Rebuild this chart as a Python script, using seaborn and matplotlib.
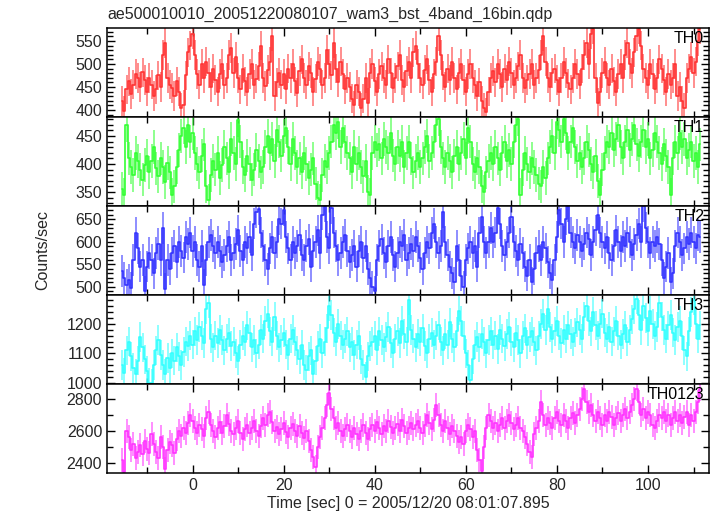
import numpy as np
import seaborn as sns
import matplotlib
matplotlib.use("Agg")
import matplotlib.pyplot as plt
import matplotlib.ticker as ticker

# bins: 0.5 s wide, first bin centre at -15.5 s
t_start = -15.5
bin_width = 0.5

th0 = [420, 398, 445, 462, 435, 455, 478, 470, 450, 482,
       465, 440, 470, 455, 430, 445, 475, 450, 520, 545,
       470, 455, 448, 430, 462, 440, 405, 412, 475, 525,
       540, 565, 520, 478, 455, 500, 470, 505, 480, 450,
       490, 465, 440, 478, 500, 455, 470, 520, 535, 480,
       515, 470, 445, 490, 462, 440, 478, 500, 455, 468,
       495, 540, 470, 452, 488, 505, 560, 430, 460, 480,
       455, 478, 445, 490, 470, 500, 462, 438, 485, 510,
       470, 455, 495, 480, 440, 468, 505, 490, 455, 470,
       530, 500, 475, 545, 490, 460, 505, 478, 445, 470,
       450, 425, 410, 455, 440, 405, 425, 470, 415, 480,
       500, 462, 440, 478, 495, 470, 455, 510, 480, 448,
       470, 495, 520, 465, 450, 485, 505, 470, 525, 540,
       500, 470, 455, 488, 510, 465, 440, 478, 505, 560,
       520, 475, 450, 490, 465, 505, 470, 445, 480, 500,
       465, 440, 478, 500, 470, 455, 430, 460, 420, 405,
       395, 440, 470, 485, 460, 500, 478, 450, 490, 465,
       505, 480, 455, 470, 495, 520, 470, 448, 465, 478,
       500, 455, 470, 488, 520, 560, 505, 470, 450, 480,
       490, 465, 440, 470, 505, 480, 458, 445, 470, 500,
       478, 455, 490, 520, 545, 500, 565, 575, 470, 415,
       440, 480, 505, 470, 455, 490, 462, 440, 478, 500,
       470, 520, 545, 500, 480, 525, 560, 575, 540, 490,
       470, 455, 500, 478, 445, 470, 510, 490, 465, 440,
       478, 455, 470, 500, 430, 450, 420, 405, 470, 490,
       515, 480, 505, 550, 575]

th1 = [355, 345, 470, 410, 395, 380, 420, 405, 390, 372,
       398, 415, 385, 405, 430, 392, 378, 410, 395, 368,
       402, 385, 345, 360, 395, 425, 450, 465, 430, 470,
       440, 455, 420, 400, 385, 415, 435, 360, 335, 380,
       405, 390, 420, 375, 398, 430, 410, 385, 445, 420,
       400, 478, 440, 395, 380, 415, 400, 372, 390, 425,
       405, 385, 395, 430, 450, 420, 445, 405, 460, 440,
       415, 450, 465, 430, 400, 445, 420, 395, 410, 385,
       420, 400, 375, 390, 410, 365, 340, 335, 380, 405,
       395, 420, 440, 470, 455, 475, 430, 465, 440, 420,
       410, 385, 430, 400, 420, 395, 378, 405, 350, 345,
       420, 440, 425, 435, 410, 445, 430, 420, 455, 415,
       400, 430, 415, 440, 395, 420, 440, 410, 385, 405,
       420, 395, 410, 430, 450, 405, 420, 440, 470, 480,
       430, 410, 395, 420, 405, 385, 415, 430, 400, 420,
       445, 410, 465, 440, 400, 385, 410, 395, 360, 350,
       385, 405, 420, 400, 430, 410, 390, 420, 440, 405,
       425, 400, 440, 470, 480, 345, 390, 420, 400, 385,
       410, 395, 380, 365, 360, 395, 375, 410, 430, 450,
       420, 475, 460, 440, 480, 455, 420, 440, 465, 430,
       405, 420, 395, 410, 440, 425, 400, 385, 415, 370,
       345, 390, 420, 440, 430, 455, 425, 445, 470, 430,
       410, 440, 460, 425, 445, 470, 435, 415, 440, 460,
       430, 445, 410, 425, 455, 440, 420, 400, 435, 415,
       395, 345, 410, 440, 420, 455, 430, 445, 410, 425,
       440, 405, 420, 395, 435]

th2 = [535, 520, 505, 515, 498, 560, 620, 585, 545, 560,
       490, 545, 575, 560, 530, 575, 595, 560, 630, 495,
       560, 540, 575, 590, 555, 600, 580, 565, 610, 595,
       620, 580, 600, 560, 545, 590, 505, 560, 600, 615,
       590, 575, 600, 580, 555, 570, 590, 610, 560, 575,
       595, 625, 580, 560, 600, 585, 610, 570, 640, 665,
       672, 620, 590, 560, 540, 585, 610, 575, 600, 650,
       640, 670, 610, 585, 560, 600, 575, 590, 615, 570,
       560, 590, 605, 545, 580, 600, 625, 575, 660, 679,
       610, 585, 675, 620, 590, 560, 575, 600, 615, 580,
       555, 570, 590, 545, 580, 600, 565, 590, 540, 520,
       500, 490, 560, 590, 605, 575, 555, 590, 610, 570,
       545, 575, 600, 590, 615, 560, 575, 595, 580, 610,
       590, 565, 540, 575, 600, 585, 620, 640, 600, 575,
       590, 665, 600, 570, 545, 530, 510, 590, 560, 525,
       500, 560, 585, 600, 575, 590, 545, 620, 655, 600,
       575, 600, 630, 600, 620, 675, 640, 590, 570, 600,
       620, 655, 600, 580, 560, 595, 575, 545, 525, 560,
       510, 540, 575, 590, 560, 600, 585, 555, 530, 515,
       560, 610, 670, 640, 600, 650, 679, 620, 600, 585,
       615, 600, 580, 595, 620, 605, 570, 600, 625, 660,
       620, 600, 585, 610, 575, 560, 590, 625, 600, 580,
       610, 590, 620, 600, 570, 595, 615, 640, 600, 679,
       630, 600, 575, 600, 590, 610, 595, 560, 520, 545,
       575, 510, 530, 590, 620, 600, 570, 585, 610, 595,
       620, 600, 585, 615, 610]

th3 = [1060, 1035, 1110, 1140, 1090, 1050, 1030, 1075, 1155, 1120,
       1080, 1040, 1000, 998, 1060, 1110, 1145, 1095, 1060, 1030,
       1085, 1050, 1100, 1075, 1120, 1090, 1060, 1105, 1140, 1125,
       1160, 1130, 1175, 1145, 1190, 1160, 1135, 1250, 1270, 1150,
       1120, 1160, 1135, 1180, 1145, 1110, 1150, 1170, 1125, 1140,
       1100, 1075, 1130, 1160, 1140, 1195, 1170, 1120, 1145, 1100,
       1130, 1180, 1150, 1210, 1235, 1175, 1140, 1225, 1160, 1120,
       1145, 1170, 1130, 1095, 1150, 1180, 1140, 1110, 1080, 1130,
       1060, 1045, 1090, 1110, 1030, 1075, 1125, 1150, 1100, 1140,
       1185, 1260, 1230, 1170, 1140, 1200, 1160, 1130, 1150, 1175,
       1120, 1140, 1095, 1130, 1160, 1080, 1060, 1020, 1090, 1125,
       1140, 1160, 1110, 1175, 1145, 1120, 1155, 1190, 1135, 1100,
       1150, 1175, 1135, 1210, 1165, 1140, 1280, 1180, 1150, 1120,
       1165, 1140, 1185, 1125, 1100, 1150, 1170, 1130, 1160, 1195,
       1140, 1110, 1165, 1130, 1205, 1150, 1120, 1175, 1245, 1210,
       1160, 1100, 1060, 1010, 1080, 1130, 1155, 1120, 1165, 1140,
       1100, 1145, 1175, 1130, 1160, 1115, 1180, 1150, 1125, 1165,
       1190, 1140, 1120, 1170, 1145, 1100, 1160, 1185, 1130, 1155,
       1175, 1140, 1110, 1160, 1200, 1235, 1180, 1250, 1190, 1150,
       1175, 1210, 1160, 1135, 1180, 1150, 1195, 1165, 1140, 1170,
       1205, 1180, 1150, 1225, 1260, 1210, 1175, 1240, 1195, 1160,
       1200, 1235, 1170, 1150, 1190, 1140, 1175, 1210, 1160, 1130,
       1165, 1195, 1140, 1180, 1215, 1250, 1285, 1230, 1180, 1260,
       1220, 1175, 1245, 1200, 1160, 1190, 1270, 1225, 1180, 1150,
       1195, 1230, 1170, 1145, 1190, 1210, 1160, 1110, 1090, 1175,
       1240, 1280, 1200, 1150, 1195]

th0123 = [2420, 2345, 2600, 2560, 2480, 2520, 2430, 2470, 2510, 2455,
          2540, 2490, 2460, 2580, 2520, 2470, 2430, 2560, 2500, 2365,
          2480, 2530, 2510, 2465, 2550, 2600, 2570, 2620, 2585, 2650,
          2700, 2660, 2620, 2590, 2640, 2610, 2570, 2680, 2720, 2640,
          2600, 2560, 2620, 2655, 2590, 2630, 2700, 2645, 2600, 2580,
          2620, 2660, 2590, 2550, 2610, 2640, 2590, 2620, 2660, 2600,
          2570, 2630, 2680, 2640, 2700, 2720, 2655, 2600, 2625, 2580,
          2610, 2650, 2595, 2560, 2620, 2645, 2600, 2570, 2630, 2590,
          2555, 2600, 2535, 2480, 2440, 2375, 2500, 2560, 2620, 2680,
          2760, 2840, 2740, 2680, 2620, 2650, 2600, 2570, 2610, 2640,
          2600, 2560, 2620, 2580, 2550, 2600, 2640, 2590, 2550, 2610,
          2640, 2600, 2655, 2620, 2580, 2630, 2600, 2660, 2625, 2590,
          2620, 2645, 2600, 2670, 2630, 2590, 2620, 2650, 2610, 2640,
          2660, 2620, 2590, 2640, 2700, 2650, 2610, 2670, 2760, 2700,
          2640, 2600, 2660, 2620, 2580, 2630, 2600, 2570, 2530, 2560,
          2520, 2600, 2640, 2610, 2560, 2600, 2480, 2420, 2350, 2500,
          2620, 2700, 2660, 2620, 2650, 2600, 2640, 2680, 2620, 2660,
          2700, 2650, 2610, 2640, 2680, 2620, 2600, 2560, 2520, 2470,
          2440, 2580, 2620, 2660, 2780, 2700, 2640, 2680, 2650, 2620,
          2680, 2720, 2660, 2640, 2700, 2660, 2620, 2680, 2710, 2650,
          2700, 2740, 2800, 2860, 2780, 2720, 2760, 2700, 2660, 2720,
          2680, 2640, 2700, 2660, 2720, 2690, 2640, 2680, 2710, 2660,
          2700, 2740, 2680, 2720, 2760, 2800, 2860, 2780, 2700, 2740,
          2680, 2720, 2700, 2640, 2620, 2660, 2700, 2680, 2720, 2660,
          2700, 2640, 2680, 2720, 2660, 2700, 2650, 2690, 2720, 2640,
          2700, 2660, 2720, 2780, 2860]

bands = ["TH0", "TH1", "TH2", "TH3", "TH0123"]
rates = [th0, th1, th2, th3, th0123]
errors = [32, 30, 35, 50, 75]   # typical 1-sigma per 0.5 s bin
colors = ["#ff3333", "#33ff33", "#3333ff", "#33ffff", "#ff33ff"]
ylims = [(385, 578), (325, 484), (482, 679), (996, 1298), (2337, 2894)]
ymajor = [50, 50, 50, 100, 200]
yminor = [10, 10, 10, 20, 100]

sns.set_theme(style="ticks")
plt.rcParams["font.family"] = ["Liberation Sans", "DejaVu Sans"]

fig, axes = plt.subplots(5, 1, figsize=(7.17, 5.16), dpi=100, sharex=True)
fig.subplots_adjust(left=107 / 717, right=709 / 717, top=1 - 28 / 516,
                    bottom=1 - 473 / 516, hspace=0)

for ax, name, vals, err, col, yl, ma, mi in zip(axes, bands, rates, errors,
                                                 colors, ylims, ymajor, yminor):
    vals = np.array(vals, dtype=float)
    t = t_start + bin_width * np.arange(len(vals))
    ax.errorbar(t, vals, yerr=err, fmt="none", ecolor=col, elinewidth=1.3,
                alpha=0.6, capsize=0)
    sns.lineplot(x=t, y=vals, ax=ax, color=col, lw=1.2,
                 drawstyle="steps-mid", estimator=None)
    ax.set_ylim(*yl)
    ax.set_xlim(-18.8, 113.4)
    ax.yaxis.set_major_locator(ticker.MultipleLocator(ma))
    ax.yaxis.set_minor_locator(ticker.MultipleLocator(mi))
    ax.xaxis.set_major_locator(ticker.MultipleLocator(20))
    ax.xaxis.set_minor_locator(ticker.MultipleLocator(10))
    ax.tick_params(which="both", direction="in", top=True, right=True,
                   labelsize=11.5, color="black", width=1)
    ax.tick_params(which="major", length=6)
    ax.tick_params(which="minor", length=4)
    for s in ax.spines.values():
        s.set_linewidth(1.1)
        s.set_color("black")
    ax.set_ylabel("")
    ax.text(0.992, 0.965, name, transform=ax.transAxes, ha="right", va="top",
            fontsize=11.5, color="black")

axes[-1].set_xlabel("Time [sec] 0 = 2005/12/20 08:01:07.895", fontsize=11.5,
                    labelpad=2)
fig.text(0.06, (1 - 28 / 516 + 1 - 473 / 516) / 2, "Counts/sec", rotation=90,
         ha="center", va="center", fontsize=11.5)
fig.text(107 / 717, 1 - 14 / 516, "ae500010010_20051220080107_wam3_bst_4band_16bin.qdp",
         ha="left", va="center", fontsize=11.5)

plt.savefig("out.png", dpi=100)
plt.close(fig)
